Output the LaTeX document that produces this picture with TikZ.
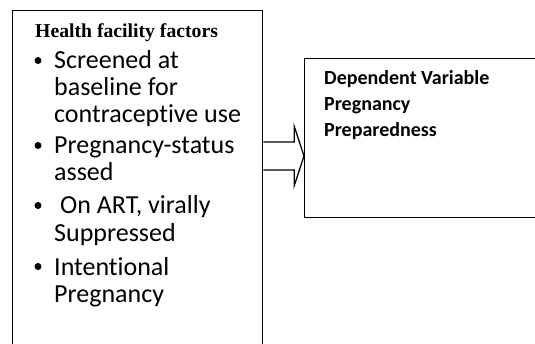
\documentclass[tikz,border=0pt]{standalone}
\usepackage{fontspec}
\setmainfont{Carlito}[Ligatures={NoCommon}]
\newfontfamily\timesfont{Liberation Serif}
\usetikzlibrary{calc}
\begin{document}
\begin{tikzpicture}[x=1pt,y=1pt,
  box/.style={draw=black, line width=1.3pt, rectangle, inner sep=0pt, anchor=north west},
  conn/.style={draw=black, line width=1.3pt, line join=miter},
  itemtxt/.style={anchor=base west, inner sep=0pt, font=\fontsize{26}{30}\selectfont},
  headtxt/.style={anchor=base west, inner sep=0pt, font=\timesfont\bfseries\fontsize{19.7}{22}\selectfont},
  deptxt/.style={anchor=base west, inner sep=0pt, font=\bfseries\fontsize{20}{24}\selectfont},
  dot/.style={circle, fill=black, inner sep=0pt, minimum size=7pt}]
\useasboundingbox (0,0) rectangle (535,343);
\clip (0,0) rectangle (535,343);
% boxes
\node[box, minimum width=250pt, minimum height=350pt] (L) at (12,333) {};
\node[box, minimum width=240pt, minimum height=159pt] (R) at (304,285) {};
% block arrow
\coordinate (tip) at ($(R.north west)+(0,-98)$);
\coordinate (tail) at (L.east |- tip);
\draw[conn] ($(tail)+(0,14)$) -- ($(tail)+(31,14)$) -- ($(tail)+(31,29.5)$) -- (tip)
  -- ($(tail)+(31,-29.5)$) -- ($(tail)+(31,-14)$) -- ($(tail)+(0,-14)$);
% left texts
\node[headtxt] (head) at (35,305) {Health facility factors};
\node[itemtxt] (i1a) at (54,274) {Screened at};
\node[itemtxt] (i1b) at (54,247) {baseline for};
\node[itemtxt] (i1c) at (54,220) {contraceptive use};
\node[itemtxt] (i2a) at (54,189) {Pregnancy-status};
\node[itemtxt] (i2b) at (54,162) {assed};
\node[itemtxt] (i3a) at (60,129) {On ART, virally};
\node[itemtxt] (i3b) at (54,102) {Suppressed};
\node[itemtxt] (i4a) at (54,68) {Intentional};
\node[itemtxt] (i4b) at (54,41) {Pregnancy};
\node[dot] (b1) at (38,282.5) {};
\node[dot] (b2) at (38,197.5) {};
\node[dot] (b3) at (38,137.5) {};
\node[dot] (b4) at (38,76.5) {};
% right texts
\node[deptxt] (d1) at (324,258) {Dependent Variable};
\node[deptxt] (d2) at (324,232) {Pregnancy};
\node[deptxt] (d3) at (324,206) {Preparedness};
\end{tikzpicture}
\end{document}
